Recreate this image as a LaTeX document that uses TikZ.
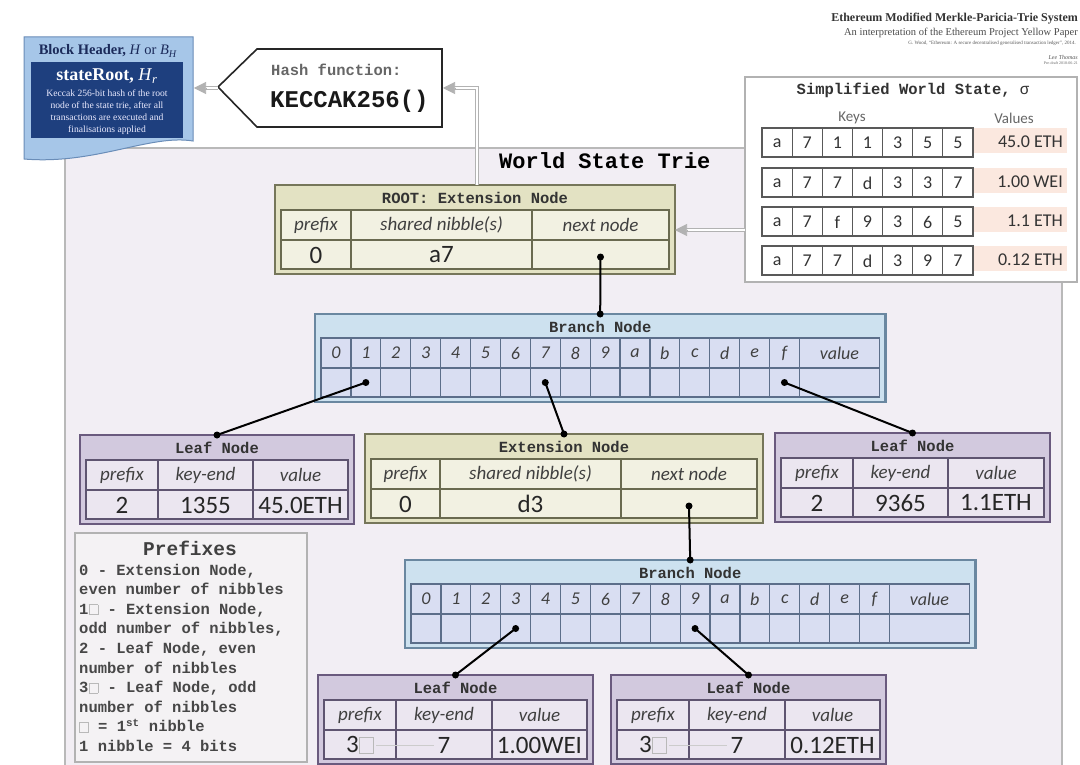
\documentclass[tikz,border=0pt]{standalone}
\usepackage{fontspec}
\setmainfont{Liberation Serif}
\newfontfamily\mono{Liberation Mono}
\newfontfamily\calib{Carlito}
\usetikzlibrary{arrows.meta,calc}
\definecolor{extfill}{HTML}{E3E2C3}
\definecolor{extdraw}{HTML}{76765A}
\definecolor{extcell}{HTML}{F2F1E2}
\definecolor{extgridc}{HTML}{6A6A50}
\definecolor{brfill}{HTML}{CDE1EF}
\definecolor{brdraw}{HTML}{6A87A0}
\definecolor{brcellc}{HTML}{D9DEF2}
\definecolor{brgridc}{HTML}{5C6E8A}
\definecolor{lffill}{HTML}{D2C9DE}
\definecolor{lfdraw}{HTML}{6A5A7E}
\definecolor{lfcellc}{HTML}{EBE6F0}
\definecolor{lfgridc}{HTML}{5E5470}
\definecolor{triefill}{HTML}{F2EEF4}
\definecolor{bhfill}{HTML}{A6C6E8}
\definecolor{bhdraw}{HTML}{6A8DB8}
\definecolor{bhdark}{HTML}{1E3F7E}
\definecolor{bhtext}{HTML}{1B2A5A}
\definecolor{valfill}{HTML}{FBE8DF}
\definecolor{prefill}{HTML}{F4F2F4}
\newcommand\fsz[1]{\fontsize{#1}{#1}\selectfont}
\newcommand\nib{\textcolor{gray!55}{\setlength\fboxsep{0pt}\setlength\fboxrule{0.6pt}\fbox{\rule{0pt}{0.6em}\hspace{0.55em}}}}
\tikzset{
  ttl/.style={font=\mono\bfseries\fsz{15.5}, text=black!80, inner sep=0pt},
  hdr/.style={font=\calib\itshape\fsz{19}, text=black!75, inner sep=0pt},
  bhdr/.style={font=\calib\itshape\fsz{18}, text=black!75, inner sep=0pt},
  val/.style={font=\calib\fsz{25}, text=black!85, inner sep=0pt},
  keyt/.style={font=\calib\fsz{18}, text=black!80, inner sep=0pt},
  pref/.style={font=\mono\bfseries\fsz{15.5}, text=black!72, inner sep=0pt},
  extbox/.style={draw=extdraw, fill=extfill, line width=2.2pt},
  extcellf/.style={fill=extcell},
  extgrid/.style={draw=extgridc, line width=1.2pt},
  lfbox/.style={draw=lfdraw, fill=lffill, line width=2.2pt},
  lfcellf/.style={fill=lfcellc},
  lfgrid/.style={draw=lfgridc, line width=1.2pt},
  brbox/.style={draw=brdraw, fill=brfill, line width=2.2pt},
  brcellf/.style={fill=brcellc},
  brgrid/.style={draw=brgridc, line width=1.2pt},
  keyline/.style={draw=black!65, line width=1.2pt},
  conn/.style={draw=black, line width=2pt},
  dot/.style={circle, fill=black, inner sep=0pt, minimum size=7pt},
  dbl/.style={draw=gray!60, double=white, double distance=2.4pt, line width=1.1pt, shorten >=9pt},
  dtip/.style={draw=gray!60, line width=0.6pt, -{Triangle[length=12pt,width=12pt,fill=gray!60]}},
}
% three-column node: name, kind, x, y, w1, w2, w3, title
\newcommand\tri[8]{%
  \pgfmathsetmacro\tXa{#3+6}%
  \pgfmathsetmacro\tXb{\tXa+#5}%
  \pgfmathsetmacro\tXc{\tXb+#6}%
  \pgfmathsetmacro\tXd{\tXc+#7}%
  \pgfmathsetmacro\tXe{\tXd+6}%
  \pgfmathsetmacro\tXm{(#3+\tXe)/2}%
  \draw[#2box] (#3,#4) rectangle (\tXe,#4+89);
  \fill[#2cellf] (\tXa,#4+25) rectangle (\tXd,#4+84);
  \draw[#2grid] (\tXa,#4+25) rectangle (\tXd,#4+84)
     (\tXa,#4+55) -- (\tXd,#4+55)
     (\tXb,#4+25) -- (\tXb,#4+84)
     (\tXc,#4+25) -- (\tXc,#4+84);
  \node[ttl] (#1) at (\tXm,#4+12.5) {#8};
  \coordinate (#1-top) at (\tXm,#4);
  \coordinate (#1-west) at (#3,#4+45);
  \coordinate (#1-east) at (\tXe,#4+45);
  \coordinate (#1-h1) at ({(\tXa+\tXb)/2},#4+40);
  \coordinate (#1-h2) at ({(\tXb+\tXc)/2},#4+40);
  \coordinate (#1-h3) at ({(\tXc+\tXd)/2},#4+40);
  \coordinate (#1-v1) at ({(\tXa+\tXb)/2},#4+70);
  \coordinate (#1-v2) at ({(\tXb+\tXc)/2},#4+70);
  \coordinate (#1-v3) at ({(\tXc+\tXd)/2},#4+70);
  \coordinate (#1-dot) at ({(\tXc+\tXd)/2},#4+72);
}
\newcommand\cells[7]{%
  \node[hdr] (#1-t1) at (#1-h1) {#2};
  \node[hdr] (#1-t2) at (#1-h2) {#3};
  \node[hdr] (#1-t3) at (#1-h3) {#4};
  \node[val] (#1-u1) at (#1-v1) {#5};
  \node[val] (#1-u2) at (#1-v2) {#6};
  \node[val] (#1-u3) at (#1-v3) {#7};
}
% branch node: name, x, y
\newcommand\br[3]{%
  \pgfmathsetmacro\bXa{#2+6}%
  \pgfmathsetmacro\bXv{\bXa+16*29.9}%
  \pgfmathsetmacro\bXd{\bXv+80}%
  \pgfmathsetmacro\bXe{\bXd+6}%
  \pgfmathsetmacro\bXm{(#2+\bXe)/2}%
  \draw[brbox] (#2,#3) rectangle (\bXe,#3+88);
  \fill[brcellf] (\bXa,#3+24) rectangle (\bXd,#3+83);
  \draw[brgrid] (\bXa,#3+24) rectangle (\bXd,#3+83) (\bXa,#3+54) -- (\bXd,#3+54);
  \foreach \lab [count=\i from 0] in {0,1,2,3,4,5,6,7,8,9,a,b,c,d,e,f}{
    \pgfmathsetmacro\cx{\bXa+(\i+0.5)*29.9}
    \draw[brgrid] (\bXa+\i*29.9+29.9,#3+24) -- ++(0,59);
    \node[bhdr] (#1-l\lab) at (\cx,#3+39) {\lab};
    \coordinate (#1-c\lab) at (\cx,#3+68.5);
  }
  \node[bhdr] (#1-lv) at ({(\bXv+\bXd)/2},#3+39) {value};
  \node[ttl] (#1) at (\bXm,#3+12.5) {Branch Node};
  \coordinate (#1-top) at (\bXm,#3);
}
% world state row: y, seven keys, value
\newcommand\wsrow[9]{%
  \fill[valfill] (973,#1) rectangle (1067,#1+25);
  \draw[keyline] (762,#1) rectangle (973,#1+29);
  \foreach \c in {1,...,6} \draw[keyline] (762+\c*30.14,#1) -- ++(0,29);
  \foreach \k [count=\c from 0] in {#2,#3,#4,#5,#6,#7,#8}
    \node[keyt] (ws#1-\c) at (777.07+\c*30.14,#1+15) {\k};
  \node[keyt,anchor=east] (wsv#1) at (1063,#1+13.5) {#9};
}
\begin{document}
\begin{tikzpicture}[x=1pt,y=-1pt]
\useasboundingbox (0,0) rectangle (1080,765);
\clip (0,0) rectangle (1080,765);
\fill[white] (0,0) rectangle (1080,765);
% world state trie area
\draw[draw=gray!55, line width=1.6pt, fill=triefill] (65,148) rectangle (1062,800);
\node[font=\mono\bfseries\fsz{22}, anchor=west, inner sep=0pt] (trielabel) at (499,161) {World State Trie};

% top-right titles
\node[anchor=east, font=\bfseries\fsz{12}, text=black!80, inner sep=0pt] (t1) at (1078,19) {Ethereum Modified Merkle-Paricia-Trie System};
\node[anchor=east, font=\fsz{10.5}, text=black!70, inner sep=0pt] (t2) at (1078,33) {An interpretation of the Ethereum Project Yellow Paper};
\node[anchor=east, font=\fsz{5}, text=black!65, inner sep=0pt] (t3) at (1076,43) {G. Wood, ``Ethereum: A secure decentralised generalised transaction ledger'', 2014.};
\node[anchor=east, font=\itshape\fsz{6}, text=black!65, inner sep=0pt] (t4) at (1078,57) {Lee Thomas};
\node[anchor=east, font=\fsz{4}, text=black!60, inner sep=0pt] (t5) at (1078,63) {Pre-draft 2018-06-21};

% block header
\draw[draw=bhdraw, fill=bhfill, line width=1pt] (24,37) -- (193,37) -- (193,141)
   .. controls (150,134) and (95,165) .. (24,159) -- cycle;
\fill[bhdark] (31,62) rectangle (183,138);
\node[font=\bfseries\fsz{14.5}, text=bhtext, inner sep=0pt] (bhtitle) at (108,51)
   {Block Header, \textmd{\textit{H} or \textit{B}\textsubscript{\textit{H}}}};
\node[font=\bfseries\fsz{18}, text=white, inner sep=0pt] (sroot) at (107,76)
   {stateRoot, \textmd{\textit{H}\textsubscript{\textit{r}}}};
\node[font=\fontsize{9.6}{12.2}\selectfont, text=white!92!blue, align=center, inner sep=0pt] (sdesc) at (107,112)
   {Keccak 256-bit hash of the root\\node of the state trie, after all\\transactions are executed and\\finalisations applied};
\coordinate (bh-east) at (194,88);

% hash function
\draw[draw=black!85, fill=white, line width=1.6pt] (218,87) -- (257,49) -- (442,49) -- (442,127) -- (257,127) -- cycle;
\coordinate (hash-tip) at (218,88);
\coordinate (hash-east) at (443,88);
\node[anchor=west, font=\mono\bfseries\fsz{15.5}, text=black!60, inner sep=0pt] (hf1) at (271,70) {Hash function:};
\node[anchor=west, font=\mono\bfseries\fsz{24}, text=black!90, inner sep=0pt] (hf2) at (270,101) {KECCAK256()};

% simplified world state
\draw[draw=gray!60, fill=white, line width=1.6pt] (745,77) rectangle (1077,282);
\coordinate (ws-west) at (745,230);
\node[font=\mono\bfseries\fsz{15.5}, text=black!80, inner sep=0pt] (wstitle) at (913,90) {Simplified World State, \textmd{σ}};
\node[font=\calib\fsz{15}, text=black!60, inner sep=0pt] (keys) at (852,118) {Keys};
\node[font=\calib\fsz{15}, text=black!60, inner sep=0pt] (values) at (1014,118) {Values};
\wsrow{128}{a}{7}{1}{1}{3}{5}{5}{45.0 ETH}
\wsrow{168}{a}{7}{7}{d}{3}{3}{7}{1.00 WEI}
\wsrow{207}{a}{7}{f}{9}{3}{6}{5}{1.1 ETH}
\wsrow{246}{a}{7}{7}{d}{3}{9}{7}{0.12 ETH}

% nodes of the trie
\tri{root}{ext}{275}{185}{70}{181}{137}{ROOT: Extension Node}
\cells{root}{prefix}{shared nibble(s)}{next node}{0}{a7}{}
\br{b1}{315}{314}
\tri{lf1}{lf}{80}{435}{72}{95}{95}{Leaf Node}
\cells{lf1}{prefix}{key-end}{value}{2}{1355}{45.0ETH}
\tri{ext2}{ext}{365}{434}{69}{181}{136}{Extension Node}
\cells{ext2}{prefix}{shared nibble(s)}{next node}{0}{d3}{}
\tri{lf2}{lf}{775}{433}{72}{95}{96}{Leaf Node}
\cells{lf2}{prefix}{key-end}{value}{2}{9365}{1.1ETH}
\br{b2}{405}{560}
\tri{lf3}{lf}{318}{675}{72}{96}{95}{Leaf Node}
\cells{lf3}{prefix}{key-end}{value}{3\nib}{7}{1.00WEI}
\tri{lf4}{lf}{611}{675}{72}{96}{95}{Leaf Node}
\cells{lf4}{prefix}{key-end}{value}{3\nib}{7}{0.12ETH}
\draw[gray!40, line width=0.5pt] ($(lf3-v1)+(16,0)$) -- ($(lf3-v2)+(-10,0)$);
\draw[gray!40, line width=0.5pt] ($(lf4-v1)+(16,0)$) -- ($(lf4-v2)+(-10,0)$);

% double arrows
\draw[dbl] (hash-tip) -- (bh-east);
\draw[dtip] ($(bh-east)+(12,0)$) -- (bh-east);
\coordinate (root-up) at (477,185);
\draw[dbl] (root-up) |- (hash-east);
\draw[dtip] ($(hash-east)+(12,0)$) -- (hash-east);
\draw[dbl] (ws-west) -- (root-east);
\draw[dtip] ($(root-east)+(12,0)$) -- (root-east);

% connectors
\draw[conn] (root-dot) -- (b1-top);
\draw[conn] (b1-c1) -- (lf1-top);
\draw[conn] (b1-c7) -- (ext2-top);
\draw[conn] (b1-cf) -- (lf2-top);
\draw[conn] (ext2-dot) -- (b2-top);
\draw[conn] (b2-c3) -- (lf3-top);
\draw[conn] (b2-c9) -- (lf4-top);
\foreach \p in {root-dot,b1-top,b1-c1,lf1-top,b1-c7,ext2-top,b1-cf,lf2-top,ext2-dot,b2-top,b2-c3,lf3-top,b2-c9,lf4-top}
  \node[dot] (d-\p) at (\p) {};

% prefixes legend
\draw[draw=gray!60, fill=prefill, line width=1.4pt] (75,533) rectangle (307,762);
\node[font=\mono\bfseries\fsz{19.5}, text=black!75, inner sep=0pt] (preftitle) at (190,548) {Prefixes};
\foreach \t [count=\i from 0] in {{0 - Extension Node,},{even number of nibbles},{1\nib{} - Extension Node,},{odd number of nibbles,},{2 - Leaf Node, even},{number of nibbles},{3\nib{} - Leaf Node, odd},{number of nibbles},{\nib{} = 1\textsuperscript{st} nibble},{1 nibble = 4 bits}}
  \node[pref, anchor=base west] (pl\i) at (79,575+\i*19.6) {\t};
\end{tikzpicture}
\end{document}
